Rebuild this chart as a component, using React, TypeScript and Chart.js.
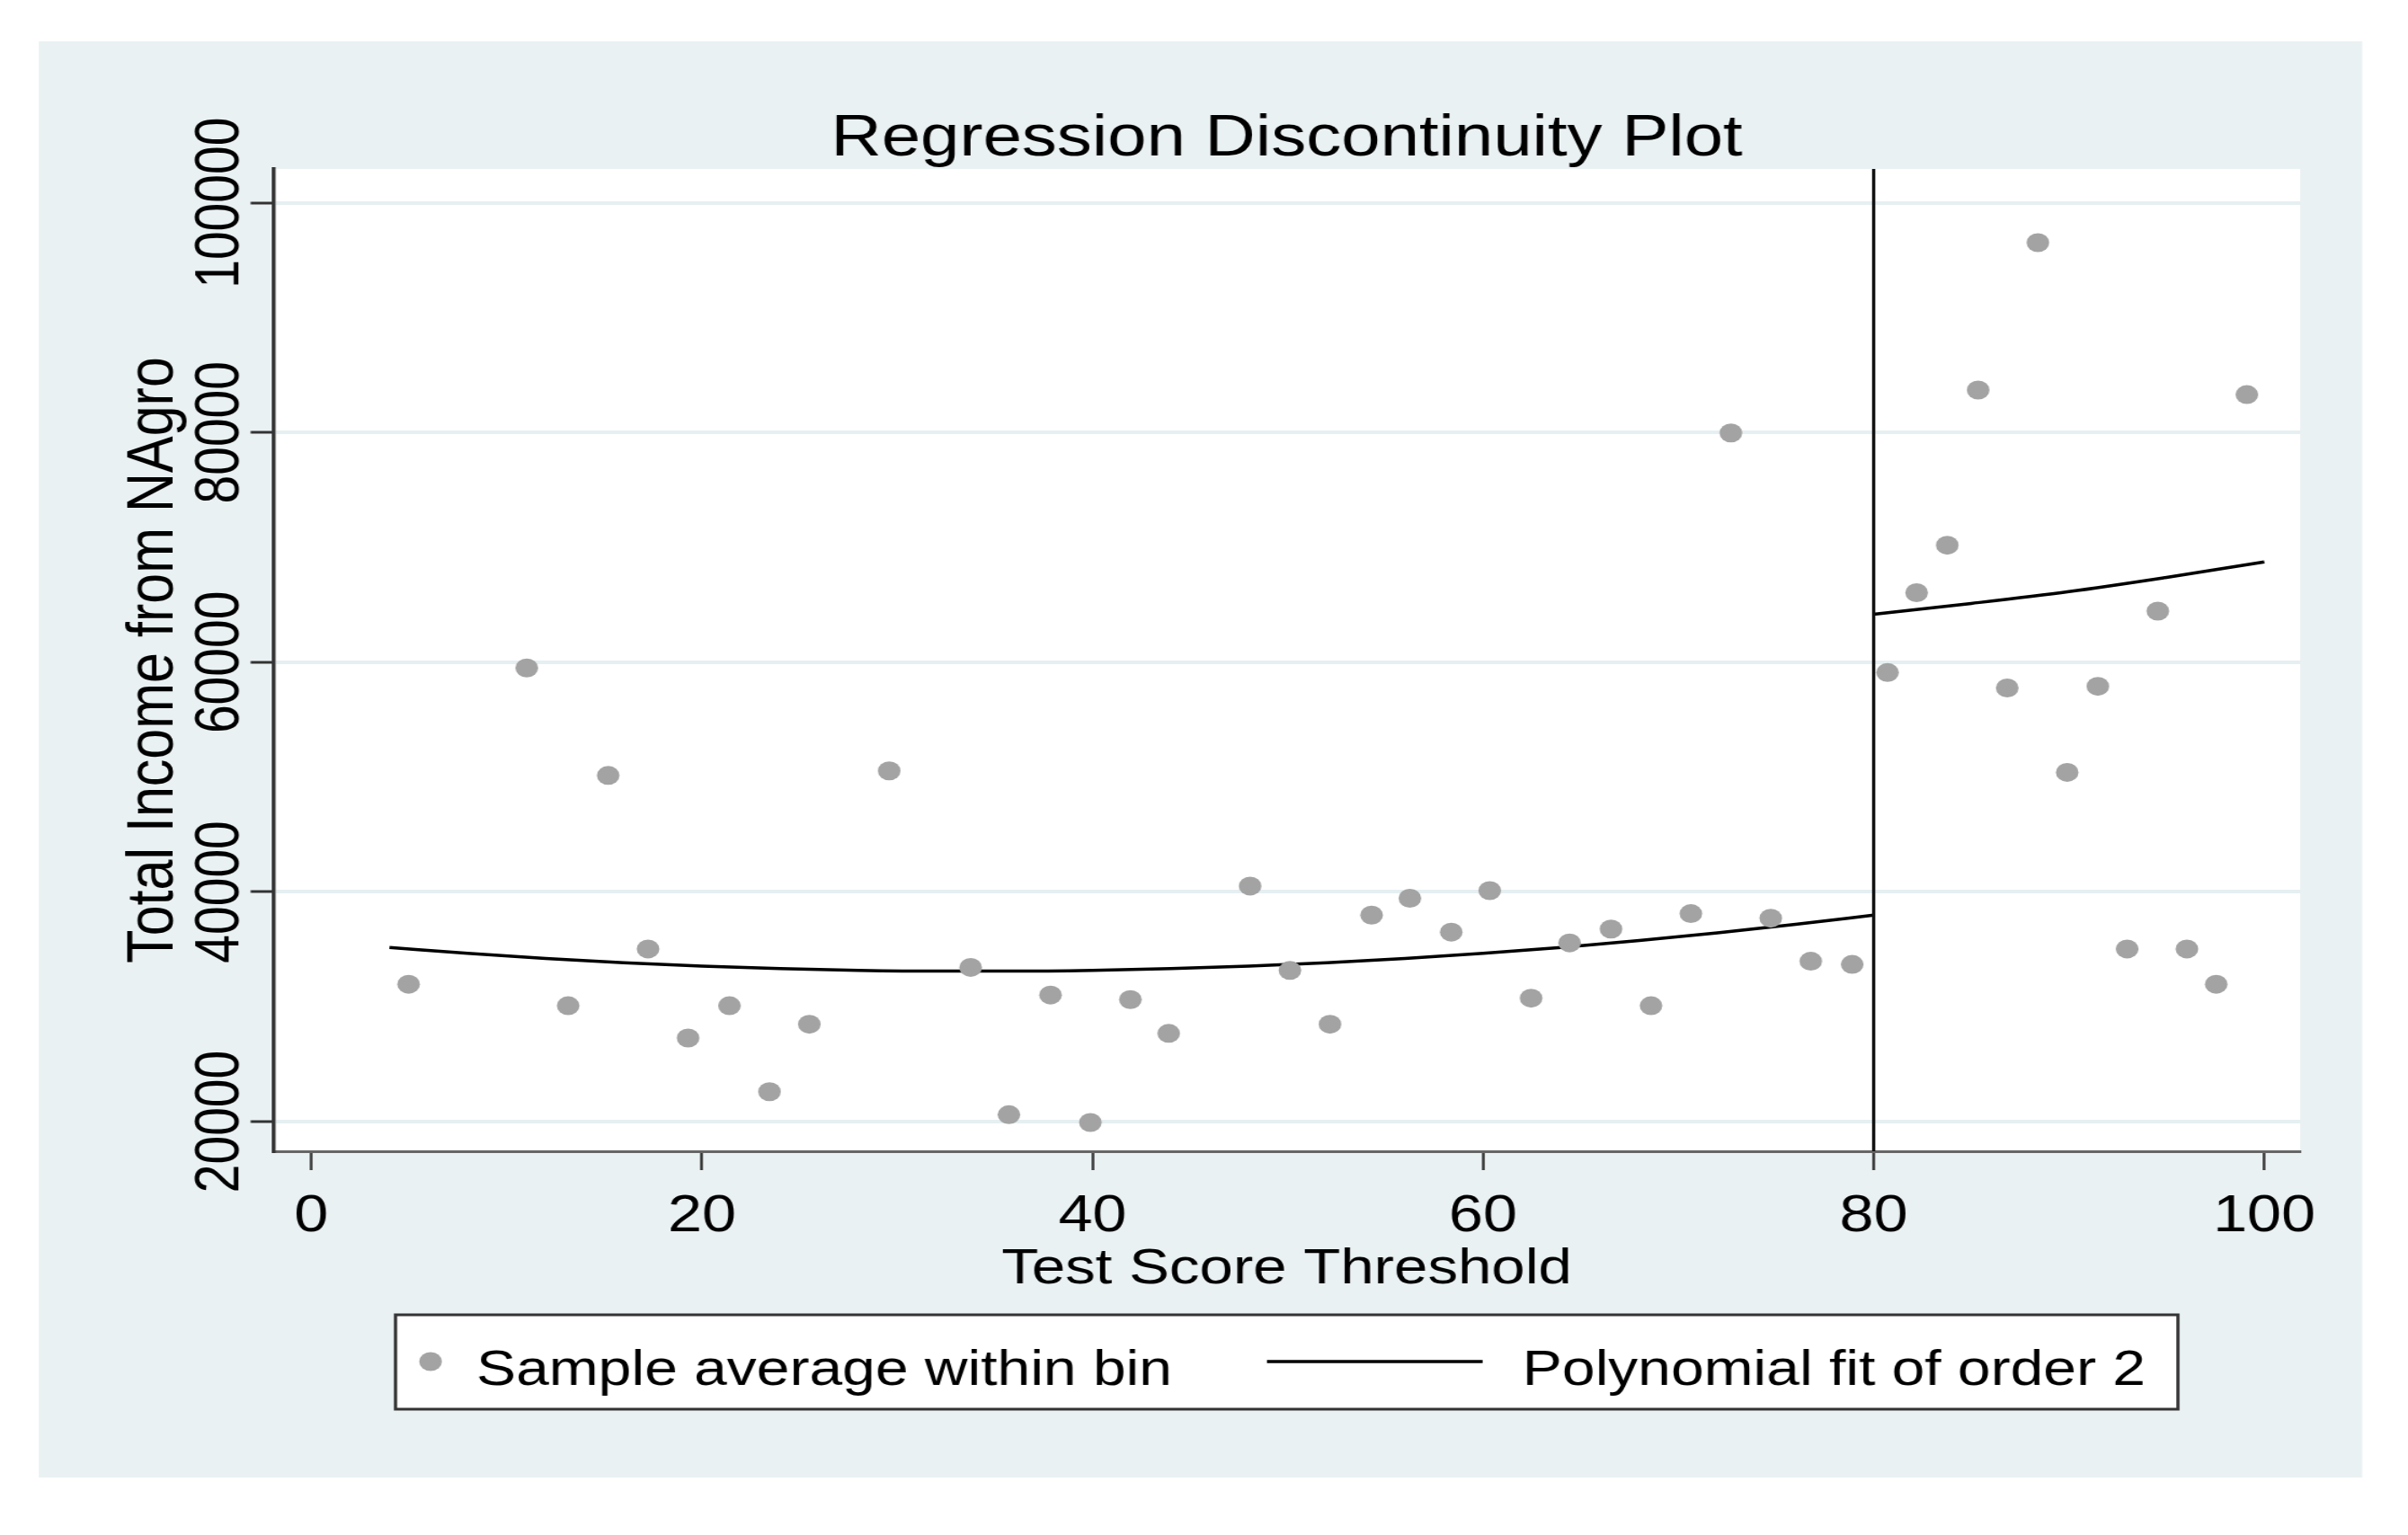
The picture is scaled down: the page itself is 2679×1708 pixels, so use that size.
import React, { useEffect, useRef } from 'react';
import { Chart, registerables } from 'chart.js';

Chart.register(...registerables);

// ---------------- data ----------------
const TITLE = 'Regression Discontinuity Plot';
const X_TITLE = 'Test Score Threshold';
const Y_TITLE = 'Total Income from NAgro';
const SERIES_LABELS = ['Sample average within bin', 'Polynomial fit of order 2'];

const binX = [
  4.98, 11.03, 13.15, 15.2, 17.24, 19.29, 21.41, 23.46, 25.5, 29.59, 33.76, 35.72, 37.85,
  39.89, 41.94, 43.9, 48.07, 50.11, 52.16, 54.29, 56.25, 58.37, 60.34, 62.46, 64.43, 66.55,
  68.6, 70.64, 72.69, 74.73, 76.78, 78.9,
  80.71, 82.2, 83.77, 85.35, 86.84, 88.41, 89.91, 91.48, 92.98, 94.55, 96.04, 97.54, 99.11,
];
const binY = [
  31960, 59500, 30090, 50140, 35030, 27280, 30090, 22600, 28480, 50540, 33430, 20600, 31020,
  19920, 30620, 27680, 40510, 33160, 28480, 37980, 39450, 36500, 40110, 30750, 35560, 36770,
  30090, 38110, 79960, 37710, 33960, 33690,
  59100, 66050, 70190, 83700, 57760, 96530, 50410, 57900, 35030, 64450, 35030, 31960, 83300,
];

const fitLeftX = [4, 8, 12, 16, 20, 24, 28, 32, 36, 40, 44, 48, 52, 56, 60, 64, 68, 72, 76, 80];
const fitLeftY = [
  35170, 34650, 34210, 33840, 33540, 33320, 33170, 33100, 33100, 33170, 33320, 33540, 33840,
  34210, 34650, 35170, 35760, 36430, 37170, 37980,
];
const fitRightX = [80, 85, 90, 95, 100];
const fitRightY = [64180, 65120, 66150, 67390, 68730];

const xTicks = [0, 20, 40, 60, 80, 100];
const yTicks = [20000, 40000, 60000, 80000, 100000];
const CUTOFF = 80;
const X_MIN = -1.95;
const X_MAX = 101.84;
const Y_MIN = 17418;
const Y_MAX = 102950;

// ---------------- styling ----------------
const FONT = "'Liberation Sans', Arial, Helvetica, sans-serif";
const W = 2233;
const H = 1708;
const K = 2679 / W; // the reference is horizontally stretched
const BG = '#eaf1f3';
const GRID = '#e6eff1';
const DOT = '#a3a3a3';

const decorPlugin = {
  id: 'decor',
  beforeDraw(chart: any) {
    const { ctx, chartArea: a } = chart;
    ctx.save();
    ctx.fillStyle = '#ffffff';
    ctx.fillRect(0, 0, chart.width, chart.height);
    ctx.fillStyle = BG;
    ctx.fillRect(36, 46, 2190.5 - 36, 1644 - 46);
    ctx.fillStyle = '#ffffff';
    ctx.fillRect(a.left, a.top, a.right - a.left, a.bottom - a.top);
    ctx.restore();
  },
  afterDatasetsDraw(chart: any) {
    const { ctx, chartArea: a } = chart;
    const px = chart.scales.x.getPixelForValue(CUTOFF);
    ctx.save();
    ctx.strokeStyle = '#111';
    ctx.lineWidth = 3;
    ctx.beginPath();
    ctx.moveTo(px, a.top);
    ctx.lineTo(px, a.bottom);
    ctx.stroke();
    ctx.restore();
  },
  afterDraw(chart: any) {
    const { ctx, chartArea: a } = chart;
    const ys = chart.scales.y;
    // rotated y tick labels
    ctx.save();
    ctx.font = `57px ${FONT}`;
    ctx.fillStyle = '#000';
    ctx.textAlign = 'center';
    ctx.textBaseline = 'alphabetic';
    for (const t of ys.ticks) {
      const py = ys.getPixelForValue(t.value);
      ctx.save();
      ctx.translate(ys.right - 32, py);
      ctx.rotate(-Math.PI / 2);
      ctx.fillText(String(t.value), 0, 0);
      ctx.restore();
    }
    ctx.restore();

    // legend box
    ctx.save();
    ctx.font = `55px ${FONT}`;
    const w1 = ctx.measureText(SERIES_LABELS[0]).width;
    const w2 = ctx.measureText(SERIES_LABELS[1]).width;
    const dotC = 32.5;
    const t1 = 75;
    const lineStart = t1 + w1 + 88;
    const lineEnd = lineStart + 200;
    const t2 = lineEnd + 37;
    const boxW = t2 + w2 + 30;
    const cx = (a.left + a.right) / 2;
    const left = cx - boxW / 2;
    const top = 1463;
    const bh = 105;
    const midY = 1515;
    const base = 1541;
    ctx.fillStyle = '#ffffff';
    ctx.fillRect(left, top, boxW, bh);
    ctx.strokeStyle = '#333';
    ctx.lineWidth = 3;
    ctx.strokeRect(left, top, boxW, bh);
    ctx.fillStyle = DOT;
    ctx.beginPath();
    ctx.arc(left + dotC, midY, 10.5, 0, Math.PI * 2);
    ctx.fill();
    ctx.fillStyle = '#000';
    ctx.textAlign = 'left';
    ctx.textBaseline = 'alphabetic';
    ctx.fillText(SERIES_LABELS[0], left + t1, base);
    ctx.strokeStyle = '#000';
    ctx.lineWidth = 3.5;
    ctx.beginPath();
    ctx.moveTo(left + lineStart, midY);
    ctx.lineTo(left + lineEnd, midY);
    ctx.stroke();
    ctx.fillText(SERIES_LABELS[1], left + t2, base);
    ctx.restore();
  },
};

export default function App() {
  const ref = useRef<HTMLCanvasElement>(null);

  useEffect(() => {
    document.body.style.margin = '0';
    document.body.style.overflow = 'hidden';
    Chart.defaults.font.family = FONT;

    const scatterData = binX.map((x, i) => ({ x, y: binY[i] }));
    const leftData = fitLeftX.map((x, i) => ({ x, y: fitLeftY[i] }));
    const rightData = fitRightX.map((x, i) => ({ x, y: fitRightY[i] }));

    const chart = new Chart(ref.current as HTMLCanvasElement, {
      type: 'scatter',
      data: {
        datasets: [
          {
            label: SERIES_LABELS[0],
            data: scatterData,
            backgroundColor: DOT,
            borderWidth: 0,
            pointRadius: 10.5,
            pointHoverRadius: 10.5,
            showLine: false,
          },
          {
            label: SERIES_LABELS[1],
            data: leftData,
            borderColor: '#000',
            borderWidth: 3.5,
            pointRadius: 0,
            showLine: true,
            cubicInterpolationMode: 'monotone',
          },
          {
            label: SERIES_LABELS[1],
            data: rightData,
            borderColor: '#000',
            borderWidth: 3.5,
            pointRadius: 0,
            showLine: true,
            cubicInterpolationMode: 'monotone',
          },
        ],
      } as any,
      options: {
        responsive: false,
        maintainAspectRatio: false,
        animation: false,
        devicePixelRatio: 1,
        layout: { padding: { left: 0, right: 100, top: 0, bottom: 247 } },
        plugins: {
          legend: { display: false },
          tooltip: { enabled: false },
          title: {
            display: true,
            text: TITLE,
            fullSize: false,
            color: '#000',
            font: { size: 65, weight: 'normal', lineHeight: 1, family: FONT },
            padding: { top: 123, bottom: 0 },
          },
        },
        scales: {
          x: {
            type: 'linear',
            min: X_MIN,
            max: X_MAX,
            afterBuildTicks: (s: any) => {
              s.ticks = xTicks.map((v) => ({ value: v }));
            },
            afterFit: (s: any) => {
              s.height = 180;
            },
            ticks: {
              color: '#000',
              font: { size: 57, family: FONT },
              padding: 18,
              maxRotation: 0,
              minRotation: 0,
              autoSkip: false,
              callback: (v: any) => String(v),
            },
            grid: {
              display: true,
              drawOnChartArea: false,
              drawTicks: true,
              tickLength: 21,
              tickColor: '#333',
              tickWidth: 2.5,
            },
            border: { display: true, color: '#666', width: 3 },
            title: {
              display: true,
              text: X_TITLE,
              color: '#000',
              font: { size: 56, family: FONT, lineHeight: 1.2 },
              padding: { top: 0, bottom: 15 },
            },
          },
          y: {
            type: 'linear',
            min: Y_MIN,
            max: Y_MAX,
            afterBuildTicks: (s: any) => {
              s.ticks = yTicks.map((v) => ({ value: v }));
            },
            afterFit: (s: any) => {
              s.width = 253.4;
            },
            ticks: { display: false },
            grid: {
              display: true,
              drawOnChartArea: true,
              drawTicks: true,
              color: GRID,
              lineWidth: 4,
              tickLength: 21,
              tickColor: '#333',
              tickWidth: 3,
            },
            border: { display: true, color: '#333', width: 3.5 },
            title: {
              display: true,
              text: Y_TITLE,
              color: '#000',
              font: { size: 61, family: FONT, lineHeight: 1 },
              padding: { top: 113, bottom: 0 },
            },
          },
        },
      } as any,
      plugins: [decorPlugin],
    });

    return () => chart.destroy();
  }, []);

  return (
    <div style={{ width: W, height: H, transform: `scaleX(${K})`, transformOrigin: '0 0' }}>
      <canvas ref={ref} width={W} height={H} style={{ display: 'block', width: W, height: H }} />
    </div>
  );
}
